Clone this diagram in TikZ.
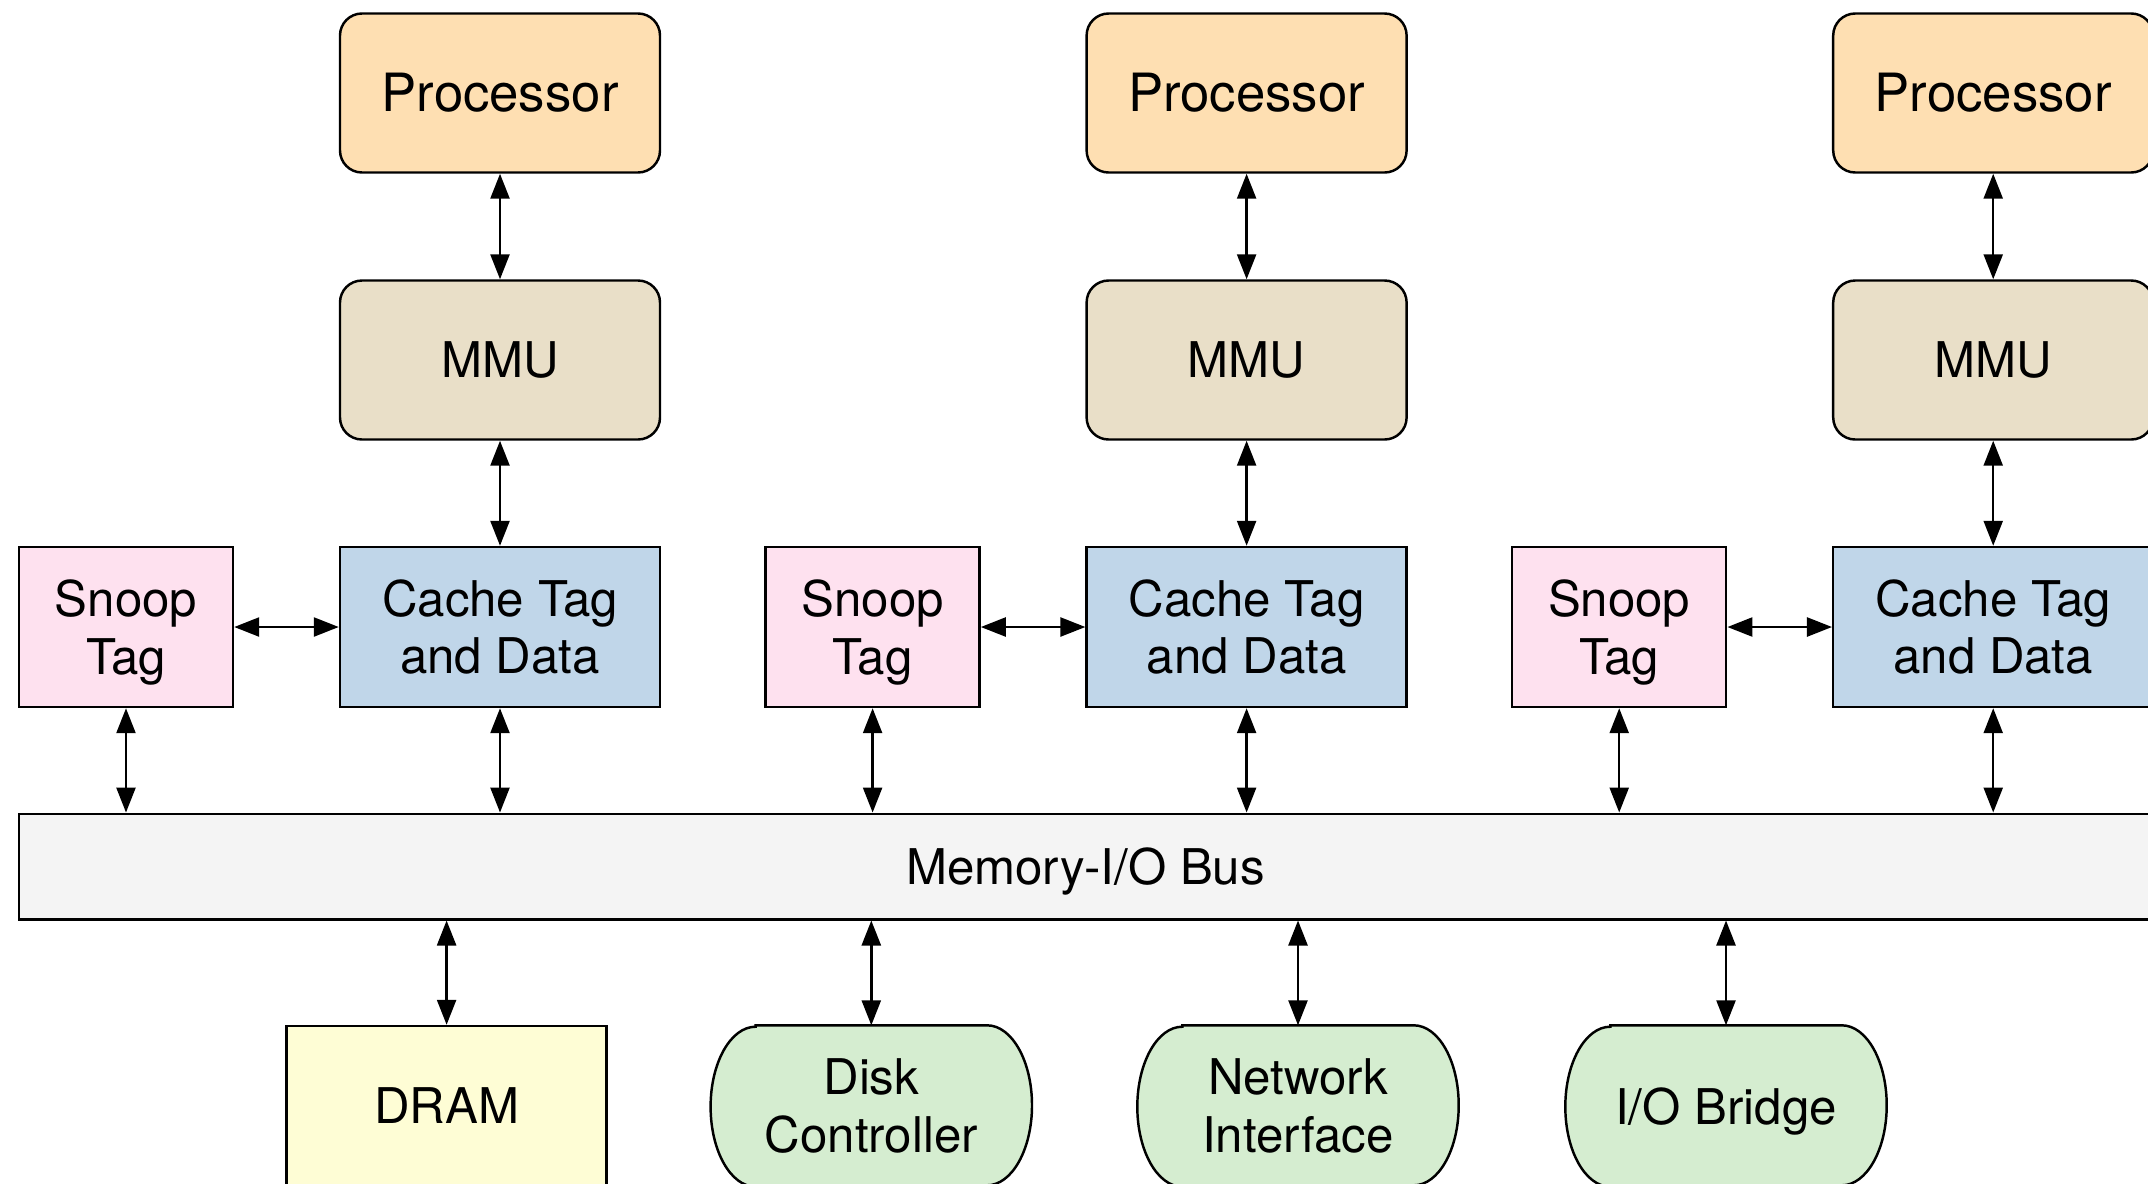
\documentclass[tikz,border=0pt]{standalone}
\usepackage{fontspec}
\setmainfont{TeX Gyre Heros}
\usetikzlibrary{positioning,calc,arrows.meta,backgrounds}
\definecolor{cpuc}{HTML}{FEDFB2}
\definecolor{mmuc}{HTML}{E9DFC8}
\definecolor{ctdc}{HTML}{C0D6E9}
\definecolor{snpc}{HTML}{FEE1EF}
\definecolor{busc}{HTML}{F4F4F4}
\definecolor{dramc}{HTML}{FEFDD5}
\definecolor{ioc}{HTML}{D5EDD0}
\tikzset{
  cpu/.style   ={draw,rounded corners=2.2mm,fill=cpuc,minimum width=3.2cm,minimum height=1.59cm,line width=.7pt,font=\fontsize{15}{18}\selectfont},
  mmu/.style   ={draw,rounded corners=2.2mm,fill=mmuc,minimum width=3.2cm,minimum height=1.59cm,line width=.7pt,font=\fontsize{14}{16.4}\selectfont},
  ctd/.style   ={draw,fill=ctdc,minimum width=3.2cm,minimum height=1.6cm,align=center,line width=.7pt,font=\fontsize{14}{16.4}\selectfont},
  snp/.style   ={draw,fill=snpc,minimum width=2.14cm,minimum height=1.6cm,align=center,text depth=0pt,line width=.7pt,font=\fontsize{14}{16.4}\selectfont},
  busbox/.style={draw,fill=busc,minimum height=1.055cm,text depth=0pt,line width=.7pt,font=\fontsize{14}{16.4}\selectfont},
  dram/.style  ={draw,fill=dramc,minimum width=3.2cm,minimum height=1.6cm,line width=.7pt,font=\fontsize{14}{16.4}\selectfont},
  iodev/.style ={minimum width=3.2cm,minimum height=1.6cm,align=center,font=\fontsize{14}{16.4}\selectfont},
  ioshape/.style={draw,fill=ioc,line width=.7pt},
  wire/.style  ={{Triangle[length=2.5mm,width=1.9mm]}-{Triangle[length=2.5mm,width=1.9mm]},line width=.7pt},
}

\begin{document}
\begin{tikzpicture}
\clip (0,0) rectangle (21.48,-11.83);

% ===================== PROCESSADORES ================================
\foreach \i/\x in {1/5.00,2/12.466,3/19.932}{
  \node[cpu] (cpu\i) at (\x,-0.93) {Processor};
  \node[mmu] (mmu\i) at (\x,-3.60) {MMU};
  \node[ctd] (ctd\i) at (\x,-6.27) {Cache Tag\\and Data};
  \node[snp] (snp\i) at (\x-3.74,-6.27) {Snoop\\Tag};
}

% ===================== BARRAMENTO ===================================
\node[busbox,minimum width=21.33cm] (bus) at (10.855,-8.665) {Memory-I/O Bus};

\foreach \i in {1,2,3}{
  \draw[wire] (cpu\i.south) -- (mmu\i.north);
  \draw[wire] (mmu\i.south) -- (ctd\i.north);
  \draw[wire] (snp\i.east) -- (ctd\i.west);
  \draw[wire] (snp\i.south) -- (snp\i.south |- bus.north);
  \draw[wire] (ctd\i.south) -- (ctd\i.south |- bus.north);
}

% ===================== MEMORIA / E-S ================================
\node[dram]  (dram) at (4.466,-11.06) {DRAM};
\node[iodev] (disk) at (8.713,-11.06) {Disk\\Controller};
\node[iodev] (nic)  at (12.98,-11.06) {Network\\Interface};
\node[iodev,text depth=0pt] (iob) at (17.26,-11.06) {I/O Bridge};

\begin{scope}[on background layer]
\foreach \n in {disk,nic,iob}
  \draw[ioshape] ($(\n.north west)+(0.45,0)$) -- ($(\n.north east)+(-0.45,0)$)
    arc[start angle=90,end angle=-90,x radius=0.45,y radius=0.8]
    -- ($(\n.south west)+(0.45,0)$)
    arc[start angle=270,end angle=90,x radius=0.45,y radius=0.8] -- cycle;
\end{scope}

\foreach \n in {dram,disk,nic,iob}
  \draw[wire] (\n.north |- bus.south) -- (\n.north);

\end{tikzpicture}
\end{document}
